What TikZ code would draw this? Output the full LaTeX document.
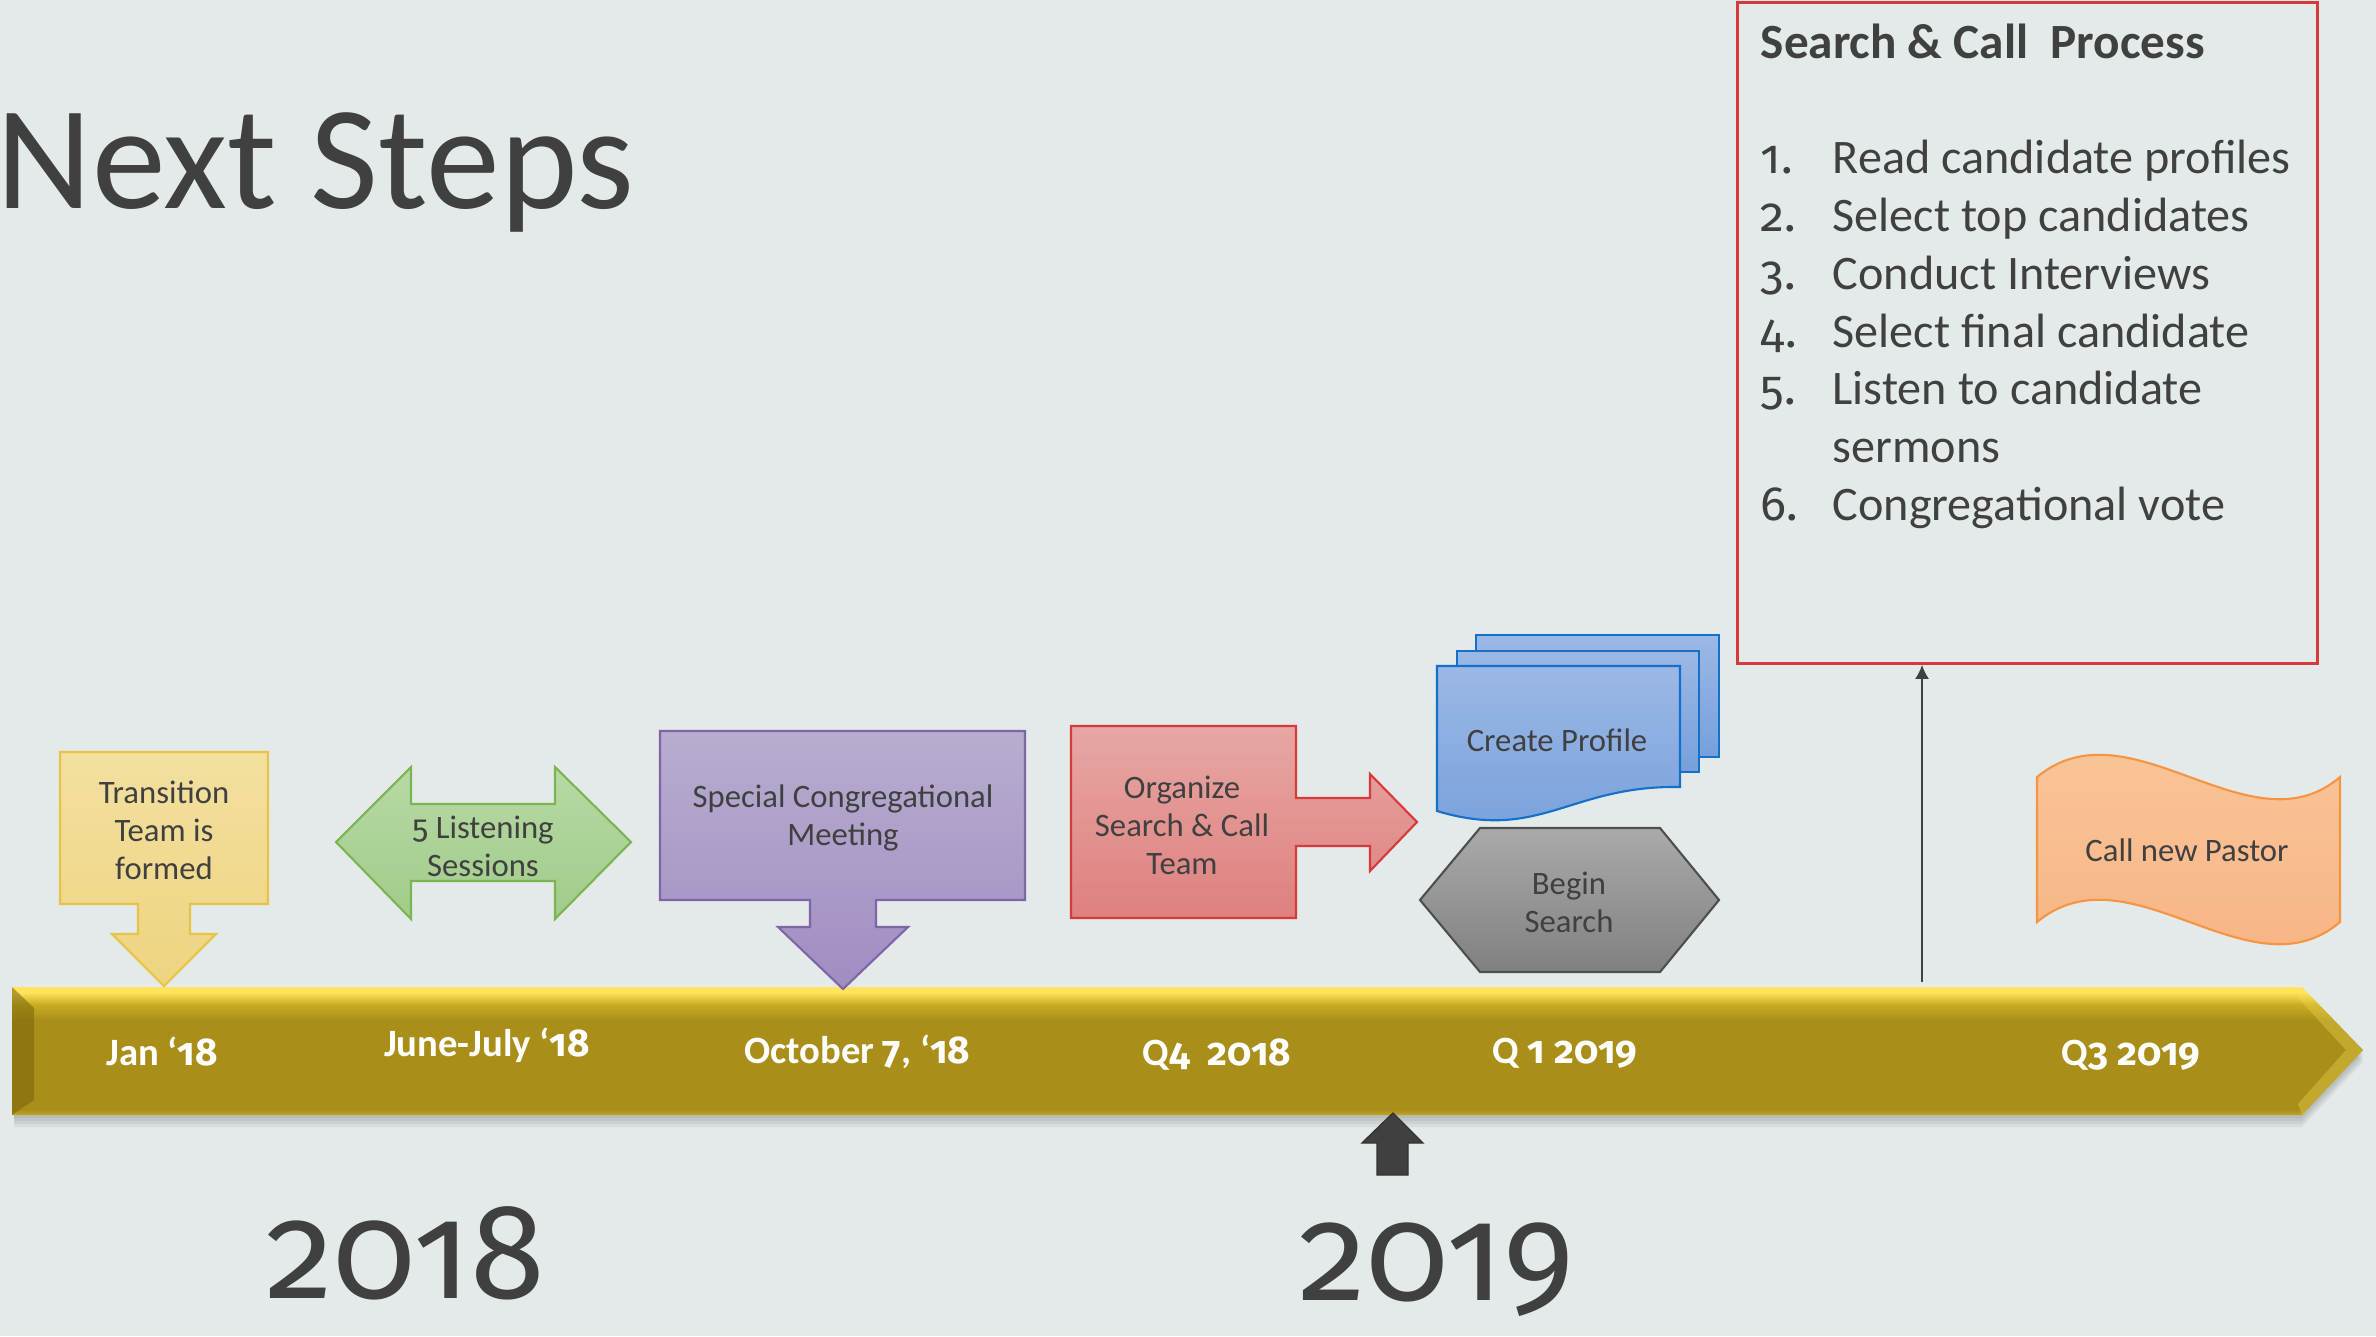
\documentclass[tikz,border=0pt]{standalone}
\usepackage{fontspec}
\setmainfont[Numbers=OldStyle]{Carlito}
\newfontfamily\oldnums[Numbers=OldStyle]{Fira Sans}
\usetikzlibrary{arrows.meta}

\definecolor{bgcol}{RGB}{228,234,234}
\definecolor{ink}{RGB}{64,64,64}
\definecolor{yeltop}{RGB}{243,224,160}
\definecolor{yelbot}{RGB}{238,212,128}
\definecolor{yelline}{RGB}{232,196,70}
\definecolor{grntop}{RGB}{184,217,165}
\definecolor{grnbot}{RGB}{160,204,137}
\definecolor{grnline}{RGB}{123,181,82}
\definecolor{purtop}{RGB}{184,173,207}
\definecolor{purbot}{RGB}{160,141,194}
\definecolor{purline}{RGB}{128,100,168}
\definecolor{redtop}{RGB}{231,167,164}
\definecolor{redbot}{RGB}{222,128,126}
\definecolor{redline}{RGB}{214,58,58}
\definecolor{blutop}{RGB}{156,184,229}
\definecolor{blubot}{RGB}{118,160,220}
\definecolor{bluline}{RGB}{20,112,200}
\definecolor{grytop}{RGB}{170,170,170}
\definecolor{grybot}{RGB}{128,128,128}
\definecolor{gryline}{RGB}{78,78,78}
\definecolor{orgtop}{RGB}{249,199,158}
\definecolor{orgbot}{RGB}{248,178,128}
\definecolor{orgline}{RGB}{246,148,66}
\definecolor{barhi}{RGB}{255,228,92}
\definecolor{barmid}{RGB}{200,170,34}
\definecolor{barbase}{RGB}{169,143,26}
\definecolor{barlow}{RGB}{196,166,36}
\definecolor{bardark}{RGB}{120,100,10}

\pgfdeclareverticalshading{barshade}{100bp}{color(0bp)=(barlow); color(25bp)=(barlow); color(27bp)=(barbase); color(62bp)=(barbase); color(68bp)=(barmid); color(73bp)=(barhi); color(75bp)=(barhi); color(100bp)=(barhi)}

% old style digits
\newcommand{\od}[1]{{\oldnums #1}}

\tikzstyle{boxtext} = [text=ink, align=center, font=\fontsize{9.3}{10.8}\selectfont]
\tikzstyle{datetext} = [text=white, font=\fontsize{11}{13}\selectfont\bfseries]
\tikzstyle{yeartext} = [text=ink, anchor=base, inner sep=0, font=\fontsize{38.5}{44}\selectfont\oldnums]
\tikzstyle{steptext} = [text=ink, anchor=base west, inner sep=0, font=\fontsize{13.7}{16}\selectfont]
\tikzstyle{yellowshape} = [draw=yelline, line width=0.6pt, top color=yeltop, bottom color=yelbot]
\tikzstyle{greenshape} = [draw=grnline, line width=0.6pt, top color=grntop, bottom color=grnbot]
\tikzstyle{purpleshape} = [draw=purline, line width=0.6pt, top color=purtop, bottom color=purbot]
\tikzstyle{redshape} = [draw=redline, line width=0.6pt, top color=redtop, bottom color=redbot]
\tikzstyle{blueshape} = [draw=bluline, line width=0.6pt, top color=blutop, bottom color=blubot]
\tikzstyle{greyshape} = [draw=gryline, line width=0.6pt, top color=grytop, bottom color=grybot]
\tikzstyle{orangeshape} = [draw=orgline, line width=0.6pt, top color=orgtop, bottom color=orgbot]
\tikzstyle{stepsbox} = [draw=redline, line width=0.9pt, minimum width=5.79cm, minimum height=6.6cm, inner sep=0]
\tikzstyle{connector} = [-{Latex[length=4pt,width=4pt]}, line width=0.6pt, draw=ink]

\begin{document}
\begin{tikzpicture}[x=0.01cm, y=-0.01cm]
    \useasboundingbox (0,0) rectangle (2376,1336);
    \fill[bgcol] (0,0) rectangle (2376,1336);

    % title
    \node (title) [anchor=base west, inner sep=0, text=ink, font=\fontsize{42}{50}\selectfont] at (-4,208) {Next Steps};

    % timeline bar
    \foreach \o in {3,6,9,12}
        \fill[black, opacity=0.05] (14,{987+\o}) -- (2302,{987+\o}) -- (2363,{1050+\o}) -- (2302,{1115+\o}) -- (14,{1115+\o}) -- cycle;
    \shade[shading=barshade] (12,987) -- (2302,987) -- (2363,1050) -- (2302,1115) -- (12,1115) -- cycle;
    \fill[bardark, opacity=0.55] (12,987) -- (34,1008) -- (34,1100) -- (12,1115) -- cycle;
    \fill[barhi, opacity=0.3] (2302,987) -- (2363,1050) -- (2302,1115) -- (2298,1104) -- (2346,1050) -- (2298,998) -- cycle;

    % shapes
    \path[yellowshape] (60,752) -- (268,752) -- (268,904) -- (190,904) -- (190,934) -- (216,934) -- (164,986) -- (112,934) -- (138,934) -- (138,904) -- (60,904) -- cycle;
    \path[greenshape] (336,842) -- (411,767) -- (411,804) -- (555,804) -- (555,767) -- (631,842) -- (555,919) -- (555,881) -- (411,881) -- (411,919) -- cycle;
    \path[purpleshape] (660,731) -- (1025,731) -- (1025,900) -- (876,900) -- (876,927) -- (908,927) -- (843,989) -- (778,927) -- (810,927) -- (810,900) -- (660,900) -- cycle;
    \path[redshape] (1071,726) -- (1296,726) -- (1296,798) -- (1370,798) -- (1370,774) -- (1417,822) -- (1370,871) -- (1370,846) -- (1296,846) -- (1296,918) -- (1071,918) -- cycle;
    \path[blueshape] (1476,635) rectangle (1719,757);
    \path[blueshape] (1457,651) rectangle (1699,772);
    \path[blueshape] (1437,666) -- (1680,666) -- (1680,787) .. controls (1570,785) and (1540,842) .. (1437,811) -- cycle;
    \path[greyshape] (1420,900) -- (1480,828) -- (1660,828) -- (1719,900) -- (1660,972) -- (1480,972) -- cycle;
    \path[orangeshape] (2037,777) .. controls (2130,700) and (2250,854) .. (2340,777) -- (2340,922) .. controls (2250,999) and (2130,845) .. (2037,922) -- cycle;
    \fill[ink, draw=black!80, line width=0.4pt] (1393,1113) -- (1423,1143) -- (1408,1143) -- (1408,1175) -- (1377,1175) -- (1377,1143) -- (1362,1143) -- cycle;

    % nodes
    \node (trans) [boxtext] at (164,830) {Transition\\Team is\\formed};
    \node (listen) [boxtext] at (483,846) {\od{5} Listening\\Sessions};
    \node (meet) [boxtext] at (843,818) {Special Congregational\\Meeting};
    \node (organize) [boxtext] at (1182,825) {Organize\\Search \& Call\\Team};
    \node (profile) [boxtext] at (1557,740) {Create Profile};
    \node (begin) [boxtext] at (1569,902) {Begin\\Search};
    \node (callpastor) [boxtext] at (2187,850) {Call new Pastor};

    \node (jan) [datetext] at (162,1052) {Jan ‘\od{18}};
    \node (june) [datetext] at (487,1045) {June-July ‘\od{18}};
    \node (oct) [datetext] at (857,1052) {October \od{7}, ‘\od{18}};
    \node (qfour) [datetext] at (1217,1055) {Q\od{4}\ \ \od{2018}};
    \node (qone) [datetext] at (1565,1053) {Q \od{1 2019}};
    \node (qthree) [datetext] at (2131,1055) {Q\od{3 2019}};

    \node (yone) [yeartext] at (406,1298) {2018};
    \node (ytwo) [yeartext] at (1437,1300) {2019};

    % search and call box
    \node (steps) [stepsbox] at (2027.5,333) {};
    \node (stepstitle) [anchor=base west, inner sep=0, text=ink, font=\fontsize{14}{16}\selectfont\bfseries] at (1760,58) {Search \& Call\ \ Process};
    \foreach \num/\txt/\y in {1./Read candidate profiles/173, 2./Select top candidates/231, 3./Conduct Interviews/289, 4./Select final candidate/347, 5./Listen to candidate/404, 6./Congregational vote/520} {
        \node (num\y) [steptext] at (1760,\y) {\od{\num}};
        \node (item\y) [steptext] at (1832,\y) {\txt};
    }
    \node (itemsermons) [steptext] at (1832,462) {sermons};

    % edges
    \coordinate (barmark) at (1922,982);
    \draw [connector] (barmark) -- (steps.south -| barmark);

\end{tikzpicture}
\end{document}
